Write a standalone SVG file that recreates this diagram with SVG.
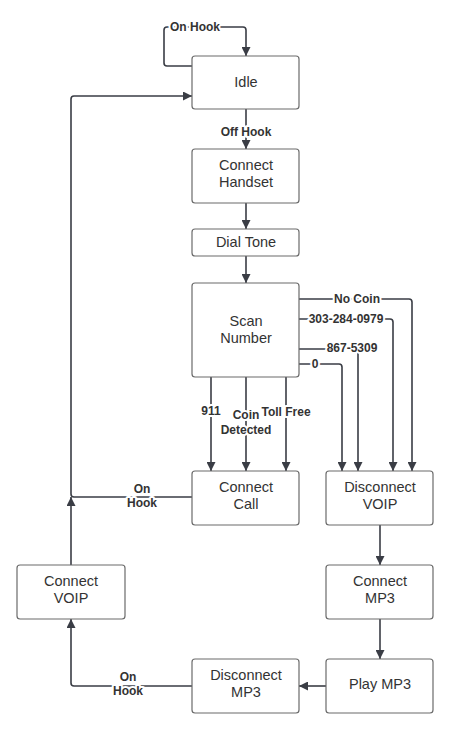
<svg xmlns="http://www.w3.org/2000/svg" width="459" height="750" viewBox="0 0 459 750">
<style>
.box{fill:#fff;stroke:#6b6b6b;stroke-width:1.2}
.nt{font-family:"Liberation Sans",Arial,sans-serif;font-size:14.5px;fill:#333;text-anchor:middle}
.ln{fill:none;stroke:#3a3d45;stroke-width:1.6;stroke-linejoin:round}
.lb{font-family:"Liberation Sans",Arial,sans-serif;font-size:12px;font-weight:bold;fill:#333;text-anchor:middle;stroke:#fff;stroke-width:4;paint-order:stroke;stroke-linejoin:round}
</style>
<defs>
<marker id="ah" viewBox="0 0 10 10" refX="10" refY="5" markerWidth="9" markerHeight="9" markerUnits="userSpaceOnUse" orient="auto">
<path d="M0,0 L10,5 L0,10 z" fill="#3a3d45"/>
</marker>
</defs>
<g id="connectors">
<path class="ln" d="M192 66 H167 Q164 66 164 63 V30 Q164 27 167 27 H243 Q246 27 246 30 V56" marker-end="url(#ah)"/>
<path class="ln" d="M246 109 V149" marker-end="url(#ah)"/>
<path class="ln" d="M246 203 V229" marker-end="url(#ah)"/>
<path class="ln" d="M246 256 V283" marker-end="url(#ah)"/>
<path class="ln" d="M211 377 V471" marker-end="url(#ah)"/>
<path class="ln" d="M246 377 V471" marker-end="url(#ah)"/>
<path class="ln" d="M286 377 V471" marker-end="url(#ah)"/>
<path class="ln" d="M299 299 H409 Q412 299 412 302 V471" marker-end="url(#ah)"/>
<path class="ln" d="M299 319 H390 Q393 319 393 322 V471" marker-end="url(#ah)"/>
<path class="ln" d="M299 349 H355 Q358 349 358 352 V471" marker-end="url(#ah)"/>
<path class="ln" d="M299 364 H339 Q342 364 342 367 V471" marker-end="url(#ah)"/>
<path class="ln" d="M192 497 H74 Q71 497 71 494 V99 Q71 96 74 96 H192" marker-end="url(#ah)"/>
<path class="ln" d="M71 565 V497" marker-end="url(#ah)"/>
<path class="ln" d="M380 525 V565" marker-end="url(#ah)"/>
<path class="ln" d="M380 619 V659" marker-end="url(#ah)"/>
<path class="ln" d="M326 686 H299" marker-end="url(#ah)"/>
<path class="ln" d="M192 686 H74 Q71 686 71 683 V619" marker-end="url(#ah)"/>
<text class="lb" x="195" y="31">On Hook</text>
<text class="lb" x="246" y="136">Off Hook</text>
<text class="lb" x="211" y="415">911</text>
<text class="lb" x="246" y="419">Coin</text>
<text class="lb" x="246" y="434">Detected</text>
<text class="lb" x="286" y="416">Toll Free</text>
<text class="lb" x="357" y="303">No Coin</text>
<text class="lb" x="346" y="323">303-284-0979</text>
<text class="lb" x="352" y="352">867-5309</text>
<text class="lb" x="315" y="368">0</text>
<text class="lb" x="142" y="493">On</text>
<text class="lb" x="142" y="507">Hook</text>
<text class="lb" x="128" y="681">On</text>
<text class="lb" x="128" y="695">Hook</text>
</g>
<g id="idle"><rect class="box" x="192" y="56" width="107" height="53" rx="3"/><text class="nt" x="246" y="87">Idle</text></g>
<g id="connect-handset"><rect class="box" x="192" y="149" width="107" height="54" rx="3"/><text class="nt" x="246" y="170">Connect</text><text class="nt" x="246" y="187">Handset</text></g>
<g id="dial-tone"><rect class="box" x="192" y="229" width="107" height="27" rx="3"/><text class="nt" x="246" y="247">Dial Tone</text></g>
<g id="scan-number"><rect class="box" x="192" y="283" width="107" height="94" rx="3"/><text class="nt" x="246" y="326">Scan</text><text class="nt" x="246" y="343">Number</text></g>
<g id="connect-call"><rect class="box" x="192" y="471" width="107" height="54" rx="3"/><text class="nt" x="246" y="492">Connect</text><text class="nt" x="246" y="509">Call</text></g>
<g id="disconnect-voip"><rect class="box" x="326" y="471" width="107" height="54" rx="3"/><text class="nt" x="380" y="492">Disconnect</text><text class="nt" x="380" y="509">VOIP</text></g>
<g id="connect-mp3"><rect class="box" x="326" y="565" width="107" height="54" rx="3"/><text class="nt" x="380" y="586">Connect</text><text class="nt" x="380" y="603">MP3</text></g>
<g id="play-mp3"><rect class="box" x="326" y="659" width="107" height="54" rx="3"/><text class="nt" x="380" y="689">Play MP3</text></g>
<g id="disconnect-mp3"><rect class="box" x="192" y="659" width="107" height="54" rx="3"/><text class="nt" x="246" y="680">Disconnect</text><text class="nt" x="246" y="697">MP3</text></g>
<g id="connect-voip"><rect class="box" x="17" y="565" width="108" height="54" rx="3"/><text class="nt" x="71" y="586">Connect</text><text class="nt" x="71" y="603">VOIP</text></g>
</svg>
